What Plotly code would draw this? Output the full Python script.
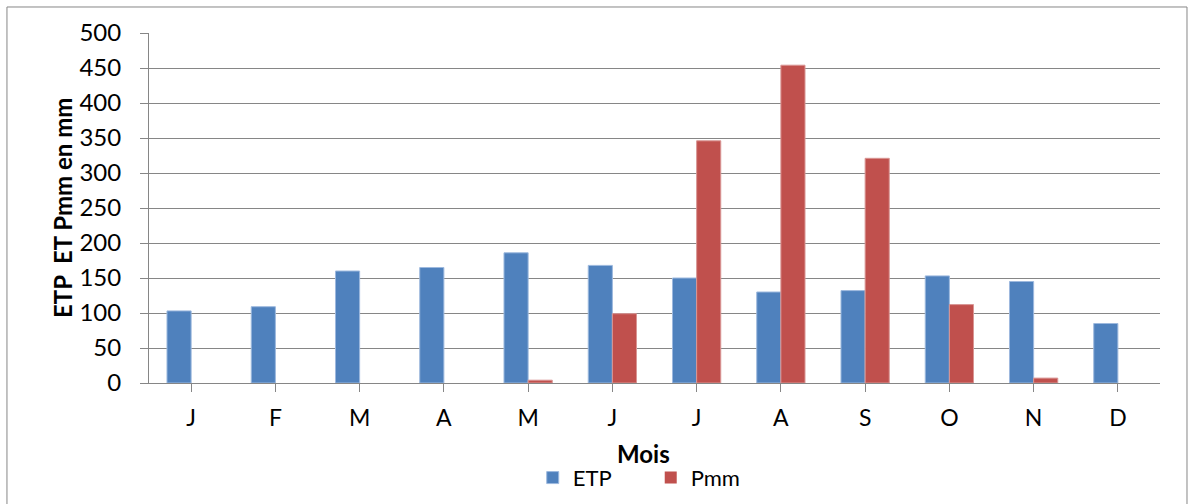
import plotly.graph_objects as go

months = ["J", "F", "M", "A", "M", "J", "J", "A", "S", "O", "N", "D"]
etp = [103, 109, 160, 165, 186, 168, 150, 130, 132, 153, 145, 85]
pmm = [0, 0, 0, 0, 4, 99, 346, 454, 321, 112, 7, 0]
y_ticks = [0, 50, 100, 150, 200, 250, 300, 350, 400, 450, 500]

x_idx = list(range(len(months)))
FONT = "Lato, Carlito, Liberation Sans, sans-serif"

def outline(vals):
    return [0 if v == 0 else 1 for v in vals]

fig = go.Figure()
fig.add_trace(go.Bar(x=x_idx, y=etp, name="ETP",
                     marker=dict(color="#4F81BD",
                                 line=dict(color="#9DB9DE", width=outline(etp)))))
fig.add_trace(go.Bar(x=x_idx, y=pmm, name="Pmm",
                     marker=dict(color="#C0504D",
                                 line=dict(color="#D99694", width=outline(pmm)))))

fig.update_layout(
    width=1194, height=504,
    margin=dict(l=149, r=34, t=33, b=121, autoexpand=False),
    paper_bgcolor="white", plot_bgcolor="white",
    barmode="group", bargap=0.427, bargroupgap=0,
    font=dict(family=FONT, size=24, color="black"),
    showlegend=True,
    legend=dict(orientation="h", xref="container", yref="container",
                x=0.545, xanchor="center", y=0.052, yanchor="middle",
                font=dict(size=22), entrywidth=73, tracegroupgap=0,
                bgcolor="rgba(0,0,0,0)"),
    xaxis=dict(
        tickmode="array", tickvals=x_idx, ticktext=months,
        range=[-0.5, 11.5], tickson="boundaries",
        ticks="outside", ticklen=8, tickcolor="#868686", tickwidth=1,
        showline=True, linecolor="#868686", linewidth=1,
        showgrid=False, zeroline=False, automargin=False,
        tickfont=dict(size=23), ticklabelstandoff=6,
    ),
    yaxis=dict(
        range=[0, 500], tickvals=y_ticks,
        ticks="outside", ticklen=8, tickcolor="#868686", tickwidth=1,
        showline=True, linecolor="#868686", linewidth=1,
        showgrid=True, gridcolor="#868686", gridwidth=1,
        zeroline=False, automargin=False,
        tickfont=dict(size=24), ticklabelstandoff=14,
    ),
    annotations=[
        dict(text="<b>Mois</b>", xref="paper", yref="paper",
             x=0.489, y=-0.2, xanchor="center", yanchor="middle",
             showarrow=False, font=dict(size=24)),
        dict(text="<b>ETP  ET Pmm en mm</b>", xref="paper", yref="paper",
             x=-0.086, y=0.5, xanchor="center", yanchor="middle", textangle=-90,
             showarrow=False, font=dict(size=24)),
    ],
    shapes=[dict(type="rect", xref="paper", yref="paper",
                 x0=-0.1405, x1=1.0267, y0=-0.4, y1=1.0743,
                 line=dict(color="#868686", width=1), fillcolor="rgba(0,0,0,0)", layer="below")],
)

fig.write_html("out.html")
